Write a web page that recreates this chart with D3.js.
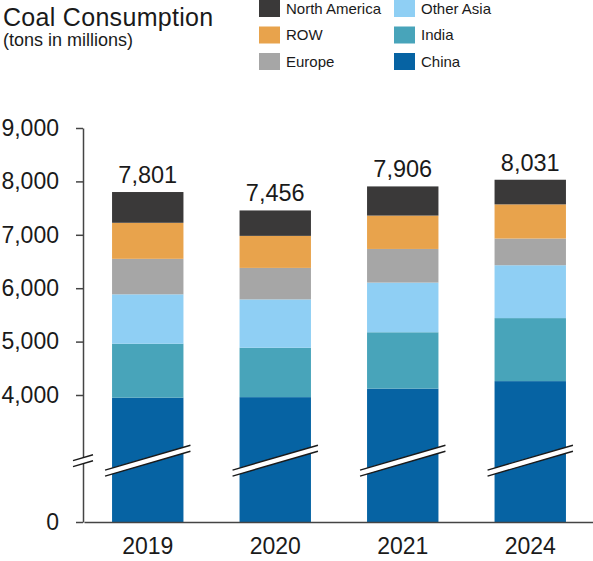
<!DOCTYPE html>
<html lang="en">
<head>
<meta charset="utf-8">
<title>Coal Consumption</title>
<script src="https://cdn.jsdelivr.net/npm/d3@7/dist/d3.min.js"></script>
<style>
	body { margin: 0; background: #fff; }
	text { font-family: "Liberation Sans", Arial, sans-serif; fill: #1a1a1a; }
</style>
</head>
<body>
<script>

// data (tons in millions)
var years = ["2019", "2020", "2021", "2024"];
var regions = ["China", "India", "Other Asia", "Europe", "ROW", "North America"];
var china = [3950, 3960, 4120, 4260];
var india = [1010, 925, 1055, 1180];
var otherAsia = [925, 905, 930, 990];
var europe = [665, 590, 630, 500];
var restOfWorld = [675, 600, 625, 640];
var northAmerica = [576, 476, 546, 461];
var totals = [7801, 7456, 7906, 8031];
var yTicks = [0, 4000, 5000, 6000, 7000, 8000, 9000];
var breakValue = 2500;

var colors = ["#0663a3", "#48a4ba", "#8fcff4", "#a6a6a6", "#e8a34c", "#3a3939"];
var legendCols = [["North America", "ROW", "Europe"], ["Other Asia", "India", "China"]];

var w = 593, h = 561;

var table = years.map(function(y, i) {
	return {
		year: y,
		"China": china[i],
		"India": india[i],
		"Other Asia": otherAsia[i],
		"Europe": europe[i],
		"ROW": restOfWorld[i],
		"North America": northAmerica[i],
		total: totals[i]
	};
});

var color = d3.scaleOrdinal().domain(regions).range(colors);

var svg = d3.select("body").append("svg")
	.attr("width", w)
	.attr("height", h);

// broken scale: bottom part squeezed
var y = d3.scaleLinear()
	.domain([0, 3000, 9000])
	.range([522, 448.4, 128]);

var x = d3.scaleBand()
	.domain(years)
	.range([84, 594])
	.paddingInner(0.44)
	.paddingOuter(0.22);

var stack = d3.stack().keys(regions)(table);

//Title
svg.append("text")
	.attr("x", 3).attr("y", 26)
	.attr("font-size", 25)
	.attr("letter-spacing", 0.3)
	.text("Coal Consumption");
svg.append("text")
	.attr("x", 3).attr("y", 46)
	.attr("font-size", 18)
	.text("(tons in millions)");

//Legend
legendCols.forEach(function(col, c) {
	var g = svg.append("g").attr("transform", "translate(" + (259 + c * 135) + ",0)");
	var item = g.selectAll("g").data(col).enter().append("g")
		.attr("transform", function(d, i) { return "translate(0," + (i * 26.5) + ")"; });
	item.append("rect")
		.attr("width", 21).attr("height", 17)
		.attr("fill", function(d) { return color(d); });
	item.append("text")
		.attr("x", 27).attr("y", 8.5).attr("dy", "0.35em")
		.attr("font-size", 15)
		.text(function(d) { return d; });
});

//Bars
svg.append("g").selectAll("g")
	.data(stack)
	.enter().append("g")
	.attr("fill", function(d) { return color(d.key); })
	.selectAll("rect")
	.data(function(d) { return d; })
	.enter().append("rect")
	.attr("x", function(d) { return x(d.data.year); })
	.attr("y", function(d) { return y(d[1]); })
	.attr("width", x.bandwidth())
	.attr("height", function(d) { return y(d[0]) - y(d[1]); });

//Totals
svg.append("g").selectAll("text")
	.data(table)
	.enter().append("text")
	.attr("x", function(d) { return x(d.year) + x.bandwidth() / 2; })
	.attr("y", function(d) { return y(d.total) - 9; })
	.attr("text-anchor", "middle")
	.attr("font-size", 23.5)
	.text(function(d) { return d3.format(",")(d.total); });

//Axes
var yAxis = svg.append("g")
	.attr("transform", "translate(83,0)")
	.call(d3.axisLeft(y).tickValues(yTicks).tickSize(7).tickSizeOuter(0).tickPadding(17).tickFormat(d3.format(",")));
yAxis.selectAll("text").attr("font-size", 23).attr("font-family", null);
yAxis.selectAll("line, path").attr("stroke", "#444").attr("stroke-width", 1.5);

var xAxis = svg.append("g")
	.attr("transform", "translate(0,522)")
	.call(d3.axisBottom(x).tickSize(0).tickSizeOuter(0).tickPadding(16));
xAxis.selectAll("text").attr("font-size", 23).attr("font-family", null);
xAxis.select("path").attr("stroke", "#444").attr("stroke-width", 1.5);

//Break marks
var slope = -0.29, gap = 3;
function breakMark(cx, halfLen) {
	var cy = y(breakValue);
	var xl = cx - halfLen, xr = cx + halfLen;
	var yl = cy - slope * halfLen, yr = cy + slope * halfLen;
	var g = svg.append("g");
	g.append("polygon")
		.attr("points", [[xl, yl - gap], [xr, yr - gap], [xr, yr + gap], [xl, yl + gap]].join(" "))
		.attr("fill", "#fff");
	[-gap, gap].forEach(function(o) {
		g.append("line")
			.attr("x1", xl).attr("y1", yl + o)
			.attr("x2", xr).attr("y2", yr + o)
			.attr("stroke", "#1a1a1a")
			.attr("stroke-width", 1.4);
	});
}

years.forEach(function(yr) {
	breakMark(x(yr) + x.bandwidth() / 2, x.bandwidth() / 2 + 7);
});
breakMark(83, 10);

</script>
</body>
</html>
